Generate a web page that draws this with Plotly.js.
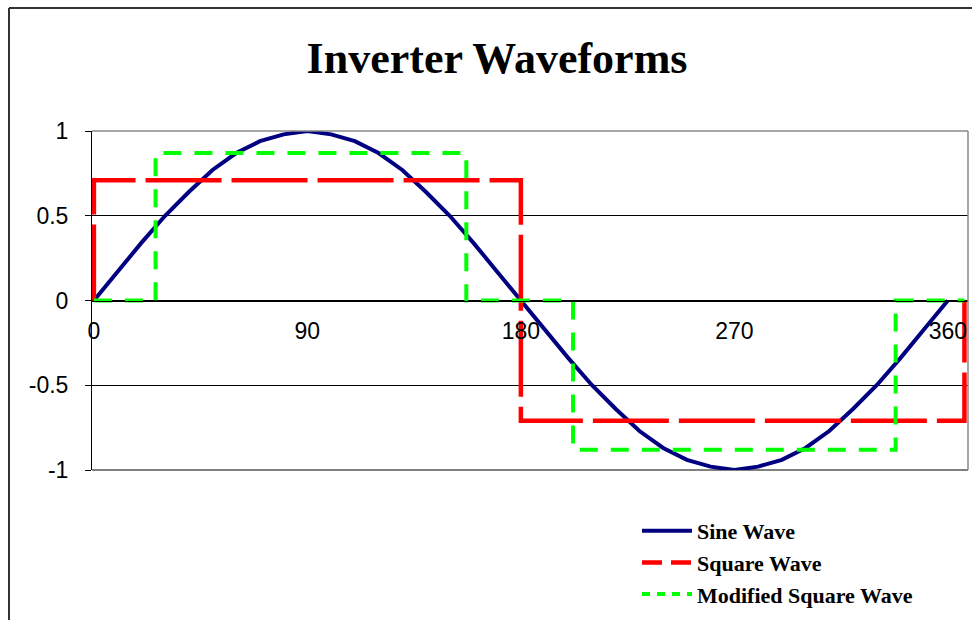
<!DOCTYPE html>
<html>
<head>
<meta charset="utf-8">
<script src="https://cdn.plot.ly/plotly-3.0.1.min.js"></script>
<style>html,body{margin:0;padding:0;background:#fff;}#chart{width:972px;height:620px;}</style>
</head>
<body>
<div id="chart"></div>
<script>
// Sine wave, read every 10 degrees
const sineX = [0,10,20,30,40,50,60,70,80,90,100,110,120,130,140,150,160,170,180,
  190,200,210,220,230,240,250,260,270,280,290,300,310,320,330,340,350,360];
const sineY = [0,0.17,0.34,0.5,0.64,0.77,0.87,0.94,0.98,1,0.98,0.94,0.87,0.77,0.64,0.5,0.34,0.17,0,
  -0.17,-0.34,-0.5,-0.64,-0.77,-0.87,-0.94,-0.98,-1,-0.98,-0.94,-0.87,-0.77,-0.64,-0.5,-0.34,-0.17,0];

// Square wave
const squareX = [0,0,180,180,367,367];
const squareY = [0,0.71,0.71,-0.71,-0.71,0];

// Modified square wave
const modX = [0,26,26,157,157,202,202,338,338,367];
const modY = [0,0,0.87,0.87,0,0,-0.88,-0.88,0,0];

const seriesNames = ['Sine Wave','Square Wave','Modified Square Wave'];
const xTickVals = [0,90,180,270,360];
const xTickText = ['0','90','180','270','360'];
const yTickVals = [1,0.5,0,-0.5,-1];
const yTickText = ['1','0.5','0','-0.5','-1'];

const NAVY = '#000080', RED = '#ff0000', GREEN = '#00ff00';

const traces = [
  {x: sineX, y: sineY, mode: 'lines', name: seriesNames[0], showlegend: false,
   line: {color: NAVY, width: 4}},
  {x: squareX, y: squareY, mode: 'lines', name: seriesNames[1], showlegend: false,
   line: {color: RED, width: 4.5, dash: '76px,10px'}},
  {x: modX, y: modY, mode: 'lines', name: seriesNames[2], showlegend: false,
   line: {color: GREEN, width: 4, dash: '18px,13px'}},
  // legend entries (Excel-style short legend samples)
  {x: [null], y: [null], mode: 'lines', name: seriesNames[0], line: {color: NAVY, width: 4}},
  {x: [null], y: [null], mode: 'lines', name: seriesNames[1], line: {color: RED, width: 4.5, dash: '20px,9px'}},
  {x: [null], y: [null], mode: 'lines', name: seriesNames[2], line: {color: GREEN, width: 4, dash: '8px,7px'}}
];

const px2paperX = p => (p - 92) / 876;
const px2paperY = p => (470 - p) / 339;

const layout = {
  width: 972, height: 620,
  margin: {l: 92, r: 4, t: 131, b: 150, pad: 0, autoexpand: false},
  paper_bgcolor: '#fff', plot_bgcolor: '#fff',
  font: {family: 'Liberation Sans, Arial, sans-serif', size: 23, color: '#000'},
  title: {
    text: 'Inverter Waveforms',
    font: {family: 'Liberation Serif, Times New Roman, serif', size: 44, color: '#000', weight: 'bold'},
    xref: 'container', x: 497/972, xanchor: 'center',
    yref: 'container', y: 1 - 58/620, yanchor: 'middle'
  },
  xaxis: {
    range: [-0.8, 368.5], fixedrange: true,
    anchor: 'free', position: 0.5,
    showgrid: false, zeroline: false,
    showline: true, linecolor: '#000', linewidth: 1,
    ticks: '', tickvals: xTickVals, ticktext: xTickText,
    ticklabelstandoff: 10,
    tickfont: {family: 'Liberation Sans, Arial, sans-serif', size: 23, color: '#000'}
  },
  yaxis: {
    range: [-1, 1], fixedrange: true,
    showgrid: true, gridcolor: '#000', gridwidth: 1,
    zeroline: false,
    showline: true, linecolor: '#000', linewidth: 1,
    ticks: 'outside', ticklen: 6, tickcolor: '#000', tickwidth: 1,
    tickvals: yTickVals, ticktext: yTickText,
    ticklabelstandoff: 12,
    tickfont: {family: 'Liberation Sans, Arial, sans-serif', size: 23, color: '#000'}
  },
  showlegend: true,
  legend: {
    xref: 'paper', yref: 'paper',
    x: px2paperX(637), xanchor: 'left',
    y: px2paperY(510), yanchor: 'top',
    bgcolor: 'rgba(0,0,0,0)', borderwidth: 0,
    itemwidth: 50, tracegroupgap: 0,
    font: {family: 'Liberation Serif, Times New Roman, serif', size: 22, color: '#000', weight: 'bold'}
  },
  shapes: [
    // outer chart border (left and top)
    {type: 'line', xref: 'paper', yref: 'paper', x0: px2paperX(9), x1: px2paperX(9),
     y0: px2paperY(630), y1: px2paperY(8), line: {color: '#333', width: 2}},
    {type: 'line', xref: 'paper', yref: 'paper', x0: px2paperX(9), x1: px2paperX(980),
     y0: px2paperY(8), y1: px2paperY(8), line: {color: '#333', width: 2}},
    // bottom gridline at -1 (black)
    {type: 'line', xref: 'paper', yref: 'paper', x0: 0, x1: 1, y0: 0, y1: 0,
     layer: 'below', line: {color: '#000', width: 1}},
    // plot area border top & right (grey)
    {type: 'line', xref: 'paper', yref: 'paper', x0: 0, x1: 1, y0: 1, y1: 1,
     layer: 'above', line: {color: '#888', width: 1.5}},
    {type: 'line', xref: 'paper', yref: 'paper', x0: 1, x1: 1, y0: 0, y1: 1,
     layer: 'above', line: {color: '#888', width: 1.5}}
  ]
};

Plotly.newPlot('chart', traces, layout, {staticPlot: true, displayModeBar: false});
</script>
</body>
</html>
